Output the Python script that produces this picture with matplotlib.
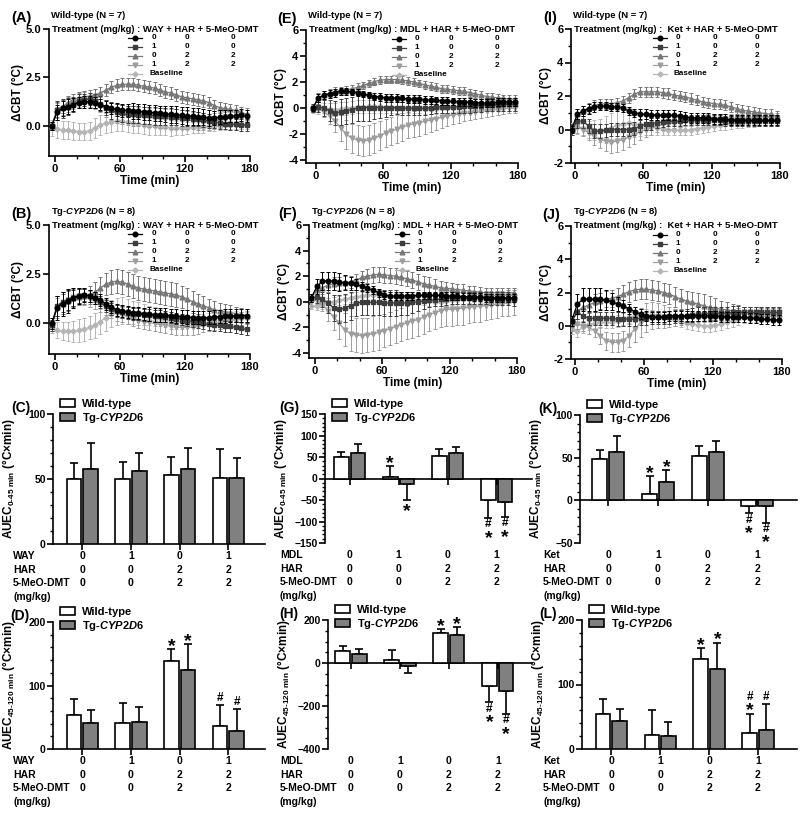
import matplotlib
matplotlib.use('Agg')
import matplotlib.pyplot as plt
from matplotlib.lines import Line2D
from matplotlib.patches import Patch
from matplotlib.ticker import MultipleLocator, FormatStrFormatter
import numpy as np

plt.rcParams['font.family'] = ['Liberation Sans', 'DejaVu Sans']
plt.rcParams['font.weight'] = 'bold'
plt.rcParams['axes.labelweight'] = 'bold'
plt.rcParams['mathtext.fontset'] = 'custom'
plt.rcParams['mathtext.rm'] = 'Liberation Sans'
plt.rcParams['mathtext.it'] = 'Liberation Sans:italic:bold'
plt.rcParams['mathtext.bf'] = 'Liberation Sans:bold'

# ---- time course data (delta CBT, deg C), one point every 5 min ----
t = list(range(-3, 180, 5))

A_veh = [0.0,0.7,0.9,1.0,1.1, 1.2,1.25,1.25,1.2,1.1, 1.0,0.9,0.85,0.8,0.8, 0.78,0.75,0.72,0.7,0.68, 0.65,0.62,0.6,0.58,0.55, 0.52,0.5,0.48,0.45,0.42, 0.42,0.45,0.48,0.5,0.52, 0.55,0.5]
A_way = [0.0,0.8,0.9,1.0,1.1, 1.3,1.35,1.4,1.3,1.15, 0.95,0.8,0.7,0.65,0.6, 0.6,0.58,0.55,0.55,0.52, 0.5,0.5,0.48,0.45,0.42, 0.4,0.38,0.35,0.3,0.25, 0.2,0.15,0.12,0.1,0.08, 0.05,0.05]
A_har = [0.0,0.85,1.0,1.2,1.35, 1.45,1.5,1.55,1.6,1.7, 1.85,2.0,2.1,2.15,2.15, 2.15,2.1,2.05,2.0,1.95, 1.85,1.75,1.7,1.6,1.5, 1.45,1.4,1.35,1.3,1.2, 1.05,0.95,0.9,0.85,0.8, 0.7,0.6]
A_mix = [0.0,0.8,0.95,1.1,1.25, 1.35,1.4,1.35,1.25,1.1, 0.9,0.75,0.65,0.6,0.55, 0.52,0.5,0.48,0.45,0.42, 0.4,0.38,0.36,0.35,0.33, 0.3,0.28,0.25,0.22,0.2, 0.25,0.3,0.35,0.4,0.45, 0.5,0.5]
A_base = [-0.1,-0.15,-0.2,-0.2,-0.25, -0.3,-0.3,-0.25,-0.1,0.05, 0.15,0.2,0.25,0.25,0.2, 0.15,0.1,0.05,0.0,0.0, -0.05,-0.05,-0.1,-0.1,-0.1, -0.1,-0.08,-0.05,-0.05,0.0, 0.0,0.02,0.05,0.05,0.05, 0.05,0.05]
A_veh_e = [0.2,0.4,0.4,0.4,0.35, 0.3,0.3,0.3,0.3,0.3, 0.3,0.3,0.35,0.35,0.35, 0.4,0.4,0.4,0.4,0.4, 0.4,0.4,0.45,0.45,0.45, 0.45,0.45,0.45,0.4,0.4, 0.35,0.35,0.35,0.3,0.3, 0.3,0.3]
A_way_e = [0.2,0.5,0.5,0.45,0.4, 0.35,0.3,0.3,0.35,0.4, 0.4,0.45,0.45,0.45,0.45, 0.45,0.45,0.45,0.45,0.45, 0.45,0.45,0.45,0.4,0.4, 0.4,0.4,0.35,0.35,0.35, 0.3,0.3,0.3,0.3,0.3, 0.3,0.3]
A_har_e = [0.2,0.4,0.35,0.35,0.3, 0.3,0.3,0.3,0.3,0.3, 0.3,0.3,0.3,0.3,0.3, 0.3,0.3,0.3,0.3,0.3, 0.3,0.3,0.3,0.3,0.3, 0.3,0.3,0.3,0.3,0.3, 0.3,0.3,0.3,0.3,0.3, 0.3,0.3]
A_mix_e = [0.2,0.4,0.4,0.4,0.4, 0.35,0.35,0.35,0.4,0.4, 0.45,0.45,0.5,0.5,0.5, 0.5,0.5,0.5,0.5,0.5, 0.5,0.5,0.5,0.5,0.5, 0.45,0.45,0.45,0.45,0.4, 0.4,0.4,0.35,0.35,0.35, 0.3,0.3]
A_base_e = [0.4,0.45,0.45,0.45,0.45, 0.45,0.45,0.45,0.5,0.5, 0.5,0.5,0.5,0.5,0.5, 0.5,0.45,0.45,0.45,0.45, 0.4,0.4,0.4,0.35,0.35, 0.3,0.3,0.3,0.3,0.25, 0.25,0.25,0.25,0.2,0.2, 0.2,0.2]

B_veh = [0.0,0.8,1.0,1.15,1.3, 1.4,1.45,1.4,1.3,1.2, 1.0,0.85,0.7,0.65,0.6, 0.55,0.55,0.5,0.48,0.45, 0.45,0.42,0.4,0.38,0.35, 0.33,0.3,0.3,0.28,0.3, 0.32,0.35,0.38,0.4,0.4, 0.4,0.4]
B_way = [-0.1,0.9,1.1,1.2,1.3, 1.4,1.45,1.4,1.3,1.1, 0.9,0.75,0.65,0.6,0.55, 0.5,0.48,0.45,0.42,0.4, 0.38,0.35,0.3,0.25,0.2, 0.15,0.1,0.05,0.0,-0.05, -0.1,-0.1,-0.15,-0.15,-0.2, -0.25,-0.3]
B_har = [0.0,0.9,1.0,1.15,1.3, 1.35,1.4,1.45,1.6,1.8, 2.0,2.1,2.15,2.1,2.0, 1.9,1.8,1.75,1.7,1.65, 1.6,1.55,1.5,1.45,1.35, 1.25,1.1,1.0,0.9,0.8, 0.7,0.65,0.6,0.55,0.5, 0.45,0.4]
B_mix = [-0.1,0.8,1.0,1.2,1.35, 1.4,1.35,1.25,1.15,1.0, 0.85,0.7,0.55,0.45,0.35, 0.25,0.15,0.1,0.05,0.0, -0.05,-0.1,-0.15,-0.2,-0.2, -0.2,-0.2,-0.15,-0.1,-0.05, 0.0,0.05,0.1,0.15,0.2, 0.25,0.3]
B_base = [-0.2,-0.35,-0.4,-0.4,-0.4, -0.35,-0.3,-0.2,-0.1,0.1, 0.3,0.5,0.6,0.65,0.6, 0.55,0.5,0.45,0.4,0.35, 0.3,0.2,0.1,0.05,0.05, 0.1,0.15,0.2,0.2,0.25, 0.3,0.3,0.3,0.35,0.35, 0.3,0.3]
B_veh_e = [0.3,0.6,0.6,0.6,0.5, 0.4,0.35,0.3,0.3,0.3, 0.3,0.3,0.3,0.3,0.3, 0.3,0.3,0.3,0.35,0.35, 0.35,0.35,0.35,0.35,0.35, 0.35,0.35,0.35,0.35,0.35, 0.35,0.35,0.35,0.35,0.35, 0.35,0.35]
B_way_e = [0.3,0.5,0.5,0.5,0.4, 0.35,0.3,0.3,0.3,0.3, 0.3,0.3,0.3,0.3,0.3, 0.3,0.3,0.3,0.3,0.3, 0.3,0.3,0.3,0.3,0.3, 0.3,0.3,0.3,0.3,0.3, 0.3,0.3,0.3,0.3,0.3, 0.3,0.3]
B_har_e = [0.3,0.5,0.5,0.5,0.45, 0.4,0.4,0.45,0.5,0.55, 0.55,0.6,0.6,0.6,0.6, 0.6,0.6,0.6,0.6,0.6, 0.6,0.6,0.6,0.6,0.55, 0.55,0.55,0.5,0.5,0.45, 0.45,0.4,0.4,0.4,0.35, 0.35,0.35]
B_mix_e = [0.3,0.5,0.5,0.5,0.45, 0.4,0.4,0.4,0.4,0.4, 0.4,0.4,0.4,0.4,0.4, 0.4,0.4,0.4,0.4,0.4, 0.4,0.4,0.4,0.4,0.4, 0.4,0.4,0.4,0.35,0.35, 0.35,0.35,0.35,0.35,0.35, 0.35,0.35]
B_base_e = [0.3,0.4,0.45,0.5,0.55, 0.6,0.6,0.6,0.65,0.65, 0.7,0.7,0.7,0.7,0.65, 0.6,0.6,0.55,0.5,0.5, 0.45,0.4,0.4,0.35,0.35, 0.3,0.3,0.3,0.3,0.3, 0.3,0.3,0.3,0.3,0.3, 0.3,0.3]

E_veh = [0.0,0.8,1.0,1.1,1.2, 1.3,1.3,1.25,1.2,1.1, 1.0,0.9,0.85,0.8,0.8, 0.78,0.75,0.72,0.7,0.68, 0.65,0.62,0.6,0.58,0.55, 0.52,0.5,0.48,0.45,0.42, 0.4,0.4,0.42,0.45,0.48, 0.5,0.5]
E_mdl = [0.0,0.1,0.0,-0.2,-0.35, -0.3,-0.2,-0.1,0.0,0.05, 0.05,0.05,0.05,0.05,0.05, 0.05,0.0,0.0,0.0,0.0, 0.0,0.05,0.1,0.1,0.1, 0.1,0.12,0.15,0.15,0.2, 0.2,0.25,0.25,0.25,0.3, 0.3,0.3]
E_har = [0.0,0.8,1.0,1.15,1.3, 1.35,1.4,1.5,1.6,1.75, 1.9,2.05,2.15,2.2,2.2, 2.2,2.15,2.1,2.0,1.9, 1.8,1.7,1.6,1.5,1.45, 1.4,1.35,1.3,1.2,1.1, 1.0,0.9,0.85,0.8,0.75, 0.7,0.7]
E_mix = [0.0,0.0,-0.3,-0.6,-1.0, -1.5,-2.0,-2.3,-2.45,-2.5, -2.45,-2.3,-2.1,-1.9,-1.75, -1.6,-1.45,-1.3,-1.2,-1.1, -1.0,-0.9,-0.8,-0.7,-0.6, -0.5,-0.45,-0.4,-0.35,-0.3, -0.25,-0.2,-0.15,-0.1,-0.05, 0.0,0.0]
E_base = [-0.1,-0.05,0.0,-0.05,-0.1, -0.05,0.0,0.05,0.1,0.1, 0.15,0.15,0.15,0.1,0.1, 0.05,0.05,0.0,0.0,0.0, -0.05,-0.05,-0.05,0.0,0.0, 0.05,0.1,0.1,0.1,0.15, 0.15,0.2,0.2,0.2,0.2, 0.2,0.2]
E_veh_e = [0.2,0.3,0.3,0.3,0.3, 0.25,0.25,0.25,0.25,0.25, 0.25,0.25,0.3,0.3,0.3, 0.3,0.3,0.3,0.3,0.3, 0.3,0.3,0.3,0.3,0.3, 0.3,0.3,0.3,0.3,0.3, 0.3,0.3,0.3,0.3,0.3, 0.3,0.3]
E_mdl_e = [0.3,0.4,0.6,0.8,0.9, 1.0,1.0,1.0,1.0,1.0, 1.0,0.9,0.8,0.7,0.6, 0.5,0.5,0.5,0.5,0.5, 0.5,0.5,0.5,0.5,0.5, 0.5,0.5,0.5,0.5,0.5, 0.5,0.5,0.5,0.5,0.5, 0.5,0.5]
E_har_e = [0.2,0.35,0.3,0.3,0.3, 0.3,0.3,0.3,0.3,0.3, 0.3,0.3,0.3,0.3,0.3, 0.3,0.3,0.3,0.3,0.3, 0.3,0.3,0.3,0.3,0.3, 0.3,0.3,0.3,0.3,0.3, 0.3,0.3,0.3,0.3,0.3, 0.3,0.3]
E_mix_e = [0.3,0.3,0.4,0.6,0.8, 1.0,1.1,1.1,1.15,1.15, 1.15,1.15,1.1,1.1,1.1, 1.1,1.05,1.0,1.0,1.0, 0.95,0.9,0.85,0.8,0.75, 0.7,0.65,0.6,0.55,0.5, 0.5,0.45,0.45,0.4,0.4, 0.4,0.4]
E_base_e = [0.3,0.4,0.4,0.45,0.5, 0.5,0.5,0.5,0.5,0.5, 0.5,0.5,0.5,0.45,0.45, 0.4,0.4,0.4,0.4,0.4, 0.4,0.4,0.4,0.4,0.4, 0.4,0.4,0.4,0.4,0.4, 0.4,0.4,0.4,0.4,0.4, 0.4,0.4]

F_veh = [0.3,1.2,1.6,1.65,1.6, 1.55,1.5,1.45,1.35,1.2, 1.05,0.9,0.7,0.55,0.45, 0.45,0.45,0.45,0.45,0.5, 0.5,0.5,0.5,0.5,0.45, 0.45,0.42,0.4,0.4,0.35, 0.35,0.3,0.3,0.3,0.3, 0.3,0.3]
F_mdl = [0.3,0.4,0.2,-0.1,-0.5, -0.6,-0.5,-0.3,-0.1,-0.05, -0.05,-0.05,-0.05,-0.1,-0.1, -0.1,-0.1,-0.1,-0.05,0.0, 0.05,0.1,0.15,0.2,0.25, 0.3,0.3,0.3,0.3,0.3, 0.3,0.3,0.25,0.25,0.25, 0.25,0.2]
F_har = [0.3,0.9,1.1,1.3,1.4, 1.45,1.5,1.55,1.7,1.9, 2.0,2.1,2.15,2.1,2.05, 2.0,1.9,1.8,1.7,1.55, 1.4,1.3,1.2,1.1,1.05, 1.0,0.95,0.9,0.85,0.8, 0.75,0.7,0.7,0.7,0.7, 0.7,0.7]
F_mix = [0.0,0.1,-0.2,-0.7,-1.2, -1.7,-2.2,-2.5,-2.6,-2.65, -2.6,-2.5,-2.4,-2.25,-2.1, -1.95,-1.8,-1.65,-1.5,-1.4, -1.2,-1.0,-0.85,-0.7,-0.6, -0.6,-0.55,-0.5,-0.45,-0.4, -0.35,-0.3,-0.25,-0.2,-0.15, -0.1,-0.05]
F_base = [-0.3,-0.35,-0.2,-0.05,0.0, 0.1,0.2,0.3,0.4,0.45, 0.5,0.55,0.5,0.45,0.4, 0.35,0.3,0.25,0.2,0.15, 0.1,0.05,0.0,0.0,0.05, 0.1,0.15,0.2,0.25,0.3, 0.35,0.4,0.45,0.5,0.5, 0.55,0.55]
F_veh_e = [0.3,0.6,0.7,0.7,0.7, 0.7,0.6,0.5,0.4,0.35, 0.3,0.3,0.3,0.3,0.3, 0.3,0.3,0.3,0.3,0.3, 0.3,0.3,0.3,0.3,0.3, 0.3,0.3,0.3,0.3,0.3, 0.3,0.3,0.3,0.3,0.3, 0.3,0.3]
F_mdl_e = [0.3,0.5,0.6,0.8,1.0, 1.1,1.1,1.1,1.0,1.0, 1.0,1.0,1.0,1.0,1.0, 1.0,0.9,0.9,0.8,0.7, 0.6,0.5,0.5,0.5,0.5, 0.5,0.5,0.5,0.5,0.5, 0.5,0.5,0.5,0.5,0.5, 0.5,0.5]
F_har_e = [0.3,0.5,0.5,0.5,0.5, 0.5,0.5,0.5,0.5,0.5, 0.55,0.6,0.6,0.6,0.6, 0.6,0.6,0.6,0.6,0.6, 0.6,0.6,0.55,0.5,0.5, 0.5,0.45,0.45,0.4,0.4, 0.4,0.4,0.35,0.35,0.35, 0.35,0.35]
F_mix_e = [0.3,0.3,0.5,0.8,1.0, 1.2,1.3,1.35,1.35,1.35, 1.35,1.35,1.35,1.3,1.3, 1.3,1.3,1.3,1.3,1.3, 1.3,1.3,1.3,1.3,1.3, 1.3,1.3,1.3,1.25,1.2, 1.2,1.15,1.1,1.05,1.0, 1.0,0.95]
F_base_e = [0.3,0.3,0.35,0.35,0.35, 0.35,0.35,0.35,0.35,0.35, 0.35,0.35,0.35,0.35,0.35, 0.35,0.35,0.35,0.35,0.35, 0.35,0.35,0.35,0.35,0.35, 0.35,0.35,0.35,0.35,0.35, 0.35,0.35,0.35,0.35,0.35, 0.35,0.35]

I_veh = [0.0,0.9,1.1,1.25,1.35, 1.4,1.4,1.35,1.35,1.3, 1.1,1.0,0.95,0.9,0.88, 0.86,0.85,0.85,0.85,0.8, 0.75,0.7,0.7,0.7,0.68, 0.65,0.62,0.6,0.58,0.55, 0.55,0.55,0.55,0.55,0.55, 0.55,0.55]
I_ket = [0.0,0.5,0.5,0.2,-0.1, -0.1,-0.05,0.0,0.0,0.0, 0.0,0.05,0.2,0.3,0.35, 0.4,0.45,0.5,0.5,0.5, 0.55,0.55,0.55,0.55,0.55, 0.55,0.55,0.5,0.5,0.5, 0.5,0.5,0.5,0.5,0.5, 0.5,0.5]
I_har = [0.0,0.9,1.1,1.3,1.45, 1.5,1.55,1.55,1.6,1.7, 1.9,2.1,2.25,2.25,2.25, 2.25,2.2,2.15,2.05,2.0, 1.95,1.85,1.75,1.65,1.6, 1.55,1.5,1.45,1.35,1.25, 1.15,1.1,1.05,1.0,0.95, 0.9,0.8]
I_mix = [0.0,0.2,0.0,-0.2,-0.4, -0.6,-0.7,-0.75,-0.7,-0.6, -0.45,-0.3,-0.15,0.0,0.1, 0.2,0.3,0.35,0.4,0.45, 0.5,0.5,0.55,0.55,0.6, 0.6,0.6,0.6,0.62,0.65, 0.65,0.65,0.68,0.7,0.7, 0.7,0.7]
I_base = [0.1,0.15,0.1,0.0,-0.05, -0.05,0.0,0.1,0.25,0.35, 0.4,0.35,0.3,0.25,0.2, 0.1,0.05,0.0,-0.05,-0.05, -0.05,0.0,0.05,0.1,0.15, 0.2,0.25,0.3,0.35,0.4, 0.4,0.45,0.45,0.5,0.5, 0.5,0.5]
I_veh_e = [0.2,0.3,0.3,0.3,0.3, 0.25,0.25,0.25,0.25,0.25, 0.25,0.25,0.3,0.3,0.3, 0.3,0.3,0.3,0.3,0.3, 0.3,0.3,0.3,0.3,0.3, 0.3,0.3,0.3,0.3,0.3, 0.3,0.3,0.3,0.3,0.3, 0.3,0.3]
I_ket_e = [0.3,0.4,0.4,0.4,0.4, 0.4,0.4,0.4,0.4,0.4, 0.4,0.4,0.35,0.35,0.35, 0.3,0.3,0.3,0.3,0.3, 0.3,0.3,0.3,0.3,0.3, 0.3,0.3,0.3,0.3,0.3, 0.3,0.3,0.3,0.3,0.3, 0.3,0.3]
I_har_e = [0.2,0.35,0.3,0.3,0.3, 0.3,0.3,0.3,0.3,0.3, 0.3,0.3,0.3,0.3,0.3, 0.3,0.3,0.3,0.3,0.3, 0.3,0.3,0.3,0.3,0.3, 0.3,0.3,0.3,0.3,0.3, 0.3,0.3,0.3,0.3,0.3, 0.3,0.3]
I_mix_e = [0.3,0.4,0.4,0.4,0.5, 0.5,0.6,0.65,0.65,0.65, 0.6,0.55,0.5,0.45,0.4, 0.35,0.3,0.3,0.3,0.3, 0.3,0.3,0.3,0.3,0.3, 0.3,0.3,0.3,0.3,0.3, 0.3,0.3,0.3,0.3,0.3, 0.3,0.3]
I_base_e = [0.3,0.4,0.45,0.5,0.6, 0.7,0.8,0.9,0.9,0.9, 0.9,0.8,0.7,0.6,0.5, 0.4,0.35,0.3,0.3,0.3, 0.3,0.3,0.3,0.3,0.3, 0.3,0.3,0.3,0.3,0.3, 0.3,0.3,0.3,0.3,0.3, 0.3,0.3]

J_veh = [0.3,1.3,1.6,1.6,1.6, 1.6,1.55,1.45,1.3,1.2, 1.0,0.85,0.7,0.6,0.55, 0.55,0.55,0.6,0.6,0.6, 0.6,0.6,0.6,0.6,0.6, 0.6,0.55,0.55,0.5,0.5, 0.5,0.45,0.45,0.4,0.4, 0.35,0.35]
J_ket = [0.3,0.8,0.6,0.45,0.45, 0.45,0.45,0.45,0.4,0.4, 0.4,0.4,0.45,0.45,0.5, 0.5,0.5,0.5,0.55,0.55, 0.6,0.65,0.7,0.7,0.75, 0.75,0.75,0.75,0.8,0.8, 0.8,0.8,0.8,0.8,0.8, 0.8,0.8]
J_har = [0.2,0.9,1.1,1.25,1.4, 1.5,1.6,1.65,1.75,1.9, 2.05,2.15,2.2,2.2,2.15, 2.1,2.0,1.9,1.75,1.6, 1.5,1.4,1.3,1.2,1.1, 1.05,1.0,0.95,0.9,0.85, 0.8,0.8,0.75,0.7,0.7, 0.7,0.7]
J_mix = [0.0,0.1,0.0,-0.1,-0.3, -0.6,-0.9,-1.0,-1.0,-0.9, -0.6,-0.2,0.2,0.5,0.6, 0.6,0.55,0.5,0.5,0.5, 0.5,0.5,0.5,0.5,0.55, 0.6,0.6,0.65,0.7,0.75, 0.8,0.8,0.8,0.8,0.8, 0.8,0.8]
J_base = [-0.2,-0.3,-0.1,0.1,0.15, 0.2,0.2,0.2,0.3,0.4, 0.5,0.6,0.65,0.65,0.6, 0.55,0.5,0.45,0.35,0.25, 0.15,0.1,0.05,0.0,0.0, 0.05,0.1,0.2,0.3,0.4, 0.5,0.55,0.6,0.6,0.6, 0.6,0.6]
J_veh_e = [0.3,0.6,0.7,0.7,0.7, 0.65,0.6,0.5,0.4,0.35, 0.3,0.3,0.3,0.3,0.3, 0.3,0.3,0.3,0.3,0.3, 0.3,0.3,0.3,0.3,0.3, 0.3,0.3,0.3,0.3,0.3, 0.3,0.3,0.3,0.3,0.3, 0.3,0.3]
J_ket_e = [0.3,0.4,0.4,0.4,0.4, 0.4,0.4,0.4,0.4,0.4, 0.4,0.4,0.4,0.4,0.4, 0.4,0.4,0.4,0.4,0.4, 0.4,0.4,0.4,0.4,0.4, 0.4,0.4,0.4,0.4,0.4, 0.35,0.35,0.35,0.35,0.35, 0.35,0.35]
J_har_e = [0.3,0.5,0.5,0.5,0.5, 0.5,0.5,0.5,0.55,0.55, 0.6,0.6,0.6,0.6,0.6, 0.6,0.6,0.6,0.6,0.6, 0.6,0.65,0.7,0.7,0.7, 0.6,0.5,0.45,0.4,0.4, 0.35,0.35,0.35,0.35,0.35, 0.35,0.35]
J_mix_e = [0.3,0.3,0.3,0.4,0.4, 0.5,0.55,0.55,0.55,0.6, 0.7,0.8,0.85,0.85,0.8, 0.75,0.7,0.6,0.5,0.45, 0.4,0.35,0.3,0.3,0.3, 0.3,0.3,0.3,0.3,0.3, 0.3,0.3,0.3,0.3,0.3, 0.3,0.3]
J_base_e = [0.3,0.35,0.35,0.35,0.35, 0.35,0.35,0.35,0.35,0.35, 0.35,0.35,0.35,0.35,0.35, 0.35,0.35,0.35,0.35,0.35, 0.35,0.35,0.35,0.35,0.35, 0.35,0.35,0.35,0.35,0.35, 0.35,0.35,0.35,0.35,0.35, 0.35,0.35]

legend_doses = [['0', '0', '0'], ['1', '0', '0'], ['0', '2', '2'], ['1', '2', '2'], ['Baseline']]

# ---- AUEC bar data (mean, SD) ----
C_wt = [50, 50, 53, 51];     C_wt_e = [12, 13, 14, 22]
C_tg = [58, 56, 58, 51];     C_tg_e = [20, 14, 16, 15]
D_wt = [54, 41, 139, 37];    D_wt_e = [24, 31, 18, 33]
D_tg = [41, 42, 124, 29];    D_tg_e = [20, 24, 41, 34]
G_wt = [50, 4, 53, -50];     G_wt_e = [12, 26, 15, 41]
G_tg = [60, -13, 60, -54];   G_tg_e = [20, 37, 14, 35]
H_wt = [56, 12, 141, -109];  H_wt_e = [23, 47, 18, 73]
H_tg = [43, -16, 128, -128]; H_tg_e = [24, 31, 39, 108]
K_wt = [48, 8, 52, -7];      K_wt_e = [11, 21, 12, 8]
K_tg = [57, 21, 57, -7];     K_tg_e = [18, 15, 13, 19]
L_wt = [54, 22, 140, 25];    L_wt_e = [23, 38, 17, 30]
L_tg = [43, 20, 124, 30];    L_tg_e = [19, 22, 41, 40]

D_sig_wt = ['', '', '*', '#'];   D_sig_tg = ['', '', '*', '#']
G_sig_wt = ['', '*', '', '#*'];  G_sig_tg = ['', '*', '', '#*']
H_sig_wt = ['', '', '*', '#*'];  H_sig_tg = ['', '', '*', '#*']
K_sig_wt = ['', '*', '', '#*'];  K_sig_tg = ['', '*', '', '#*']
L_sig_wt = ['', '', '*', '#*'];  L_sig_tg = ['', '', '*', '#']
no_sig = ['', '', '', '']

inhib_dose = ['0', '1', '0', '1']
har_dose = ['0', '0', '2', '2']
dmt_dose = ['0', '0', '2', '2']

W, H = 800, 816
fig = plt.figure(figsize=(8, 8.16), dpi=100)

def fx(x): return x / W
def fy(y): return 1 - y / H

styles = [('#000000', 'o', 3.3), ('#3d3d3d', 's', 3.0), ('#777777', '^', 3.4),
          ('#9d9d9d', 'v', 3.4), ('#b5b5b5', 'D', 2.6)]

def line_panel(l, r, tp, b, xlim, ylim, ystep, yminor, yfmt, data, errs,
               letter, letter_x, title, treat, cols, hx):
    ax = fig.add_axes([fx(l), fy(b), (r - l) / W, (b - tp) / H])
    for i in [4, 3, 2, 1, 0]:
        c, m, ms = styles[i]
        ax.errorbar(t, data[i], yerr=errs[i], color=c, marker=m, ms=ms, mfc=c, mec=c,
                    lw=0.9, elinewidth=0.7, capsize=1.4, capthick=0.7, zorder=3 + (4 - i))
    ax.set_xlim(*xlim); ax.set_ylim(*ylim)
    ax.set_xticks([0, 60, 120, 180])
    ax.xaxis.set_minor_locator(MultipleLocator(20))
    ax.yaxis.set_major_locator(MultipleLocator(ystep))
    if yminor:
        ax.yaxis.set_minor_locator(MultipleLocator(yminor))
    ax.yaxis.set_major_formatter(FormatStrFormatter(yfmt))
    for s in ['top', 'right']:
        ax.spines[s].set_visible(False)
    for s in ['left', 'bottom']:
        ax.spines[s].set_linewidth(1.2)
    ax.tick_params(which='major', length=4, width=1.2, labelsize=8, pad=1.5)
    ax.tick_params(which='minor', length=2, width=1.0)
    ax.set_xlabel('Time (min)', fontsize=8.5, labelpad=1)
    ax.set_ylabel('\u0394CBT (\u00b0C)', fontsize=8.5, labelpad=1)
    fig.text(fx(letter_x), fy(tp - 11), letter, fontsize=10.5, fontweight='bold', va='center', ha='left')
    fig.text(fx(l + 2), fy(tp - 14), title, fontsize=6.8, va='center', ha='left')
    fig.text(fx(l + 3), fy(tp), treat, fontsize=6.8, va='center', ha='left')
    for k, row in enumerate(legend_doses):
        yy = fy(tp + 8.5 + 9 * k)
        c, m, ms = styles[k]
        fig.add_artist(Line2D([fx(l + hx - 7), fx(l + hx), fx(l + hx + 7)], [yy, yy, yy],
                              color=c, lw=0.9, marker=m, ms=ms, markevery=[1]))
        if len(row) == 1:
            fig.text(fx(l + cols[0] - 4), yy, row[0], fontsize=5.9, va='center', ha='left')
        else:
            for cx, v in zip(cols, row):
                fig.text(fx(l + cx), yy, v, fontsize=5.9, va='center', ha='center')
    return ax

def bar_panel(l, r, tp, b, xlim, ylim, ystep, yminor, wt, wte, tg, tge, swt, stg,
              drug, ylab, letter, letter_x, lab_x):
    ax = fig.add_axes([fx(l), fy(b), (r - l) / W, (b - tp) / H])
    x = np.arange(len(wt))
    off, w = 0.17, 0.3
    for xs, vals, errs, fc, sig in [(x - off, wt, wte, 'white', swt), (x + off, tg, tge, '#808080', stg)]:
        ax.bar(xs, vals, w, color=fc, edgecolor='black', linewidth=1.2, zorder=3)
        lo = [e if v < 0 else 0 for v, e in zip(vals, errs)]
        hi = [0 if v < 0 else e for v, e in zip(vals, errs)]
        ax.errorbar(xs, vals, yerr=[lo, hi], fmt='none', ecolor='black', elinewidth=1.2,
                    capsize=3, capthick=1.2, zorder=2)
        for xi, v, e, s in zip(xs, vals, errs, sig):
            if not s:
                continue
            neg = v < 0
            tip = v - e if neg else v + e
            seq = list(s) if neg else list(s)[::-1]
            gap = 2
            for ch in seq:
                hh = 10 if ch == '*' else 9
                fs = 14 if ch == '*' else 8.5
                shift = -4.5 if ch == '*' else 0
                dy = -(gap + hh / 2) if neg else (gap + hh / 2)
                ax.annotate(ch, xy=(xi, tip), xytext=(0, dy + shift), textcoords='offset pixels',
                            ha='center', va='center', fontsize=fs, fontweight='bold')
                gap += hh
    ax.set_xlim(*xlim); ax.set_ylim(*ylim)
    ax.set_xticks(x); ax.set_xticklabels([])
    ax.yaxis.set_major_locator(MultipleLocator(ystep))
    ax.yaxis.set_minor_locator(MultipleLocator(yminor))
    for s in ['top', 'right']:
        ax.spines[s].set_visible(False)
    for s in ['left', 'bottom']:
        ax.spines[s].set_linewidth(1.2)
    ax.spines['bottom'].set_position(('data', 0))
    ax.tick_params(which='major', length=4, width=1.2, labelsize=7.5, pad=1.2)
    ax.tick_params(which='minor', length=2, width=1.0)
    ax.set_ylabel(ylab, fontsize=8.5)
    ax.yaxis.set_label_coords(-36 / (r - l), 0.5)
    rows = [(drug, inhib_dose), ('HAR', har_dose), ('5-MeO-DMT', dmt_dose), ('(mg/kg)', None)]
    for k, (name, vals) in enumerate(rows):
        dy = -(12 + 13.7 * k)
        ax.annotate(name, xy=(fx(lab_x), 0), xycoords=('figure fraction', 'axes fraction'),
                    xytext=(0, dy), textcoords='offset pixels', ha='left', va='center', fontsize=7.5)
        if vals:
            for xi, v in zip(x, vals):
                ax.annotate(v, xy=(xi, 0), xycoords=('data', 'axes fraction'), xytext=(0, dy),
                            textcoords='offset pixels', ha='center', va='center', fontsize=7.5)
    ax.legend(handles=[Patch(facecolor='white', edgecolor='black', lw=1.2),
                       Patch(facecolor='#808080', edgecolor='black', lw=1.2)],
              labels=['Wild-type', 'Tg-$\\mathit{CYP2D6}$'], loc='upper left',
              bbox_to_anchor=(fx(l + 7), fy(tp - 15)), bbox_transform=fig.transFigure,
              frameon=False, fontsize=8, handlelength=1.35, handleheight=0.75,
              handletextpad=0.6, labelspacing=0.2, borderpad=0, borderaxespad=0)
    fig.text(fx(letter_x), fy(tp - 6), letter, fontsize=10, fontweight='bold', va='center', ha='left')
    return ax

auec0 = 'AUEC$_{\\mathrm{0\u201045\\ min}}$ ($\\mathrm{\u00b0C{\\times}min}$)'
auec45 = 'AUEC$_{\\mathrm{45\u2010120\\ min}}$ ($\\mathrm{\u00b0C{\\times}min}$)'
wt_title = 'Wild-type (N = 7)'
tg_title = 'Tg-$\\mathit{CYP2D6}$ (N = 8)'

line_panel(49, 250, 29, 156, (-5.5, 180), (-1.55, 5.0), 2.5, None, '%.1f',
           [A_veh, A_way, A_har, A_mix, A_base], [A_veh_e, A_way_e, A_har_e, A_mix_e, A_base_e],
           '(A)', 11, wt_title, 'Treatment (mg/kg) : WAY + HAR + 5-MeO-DMT', (105, 138, 184), 86)
line_panel(49, 250, 225, 354, (-5.5, 180), (-1.55, 5.0), 2.5, None, '%.1f',
           [B_veh, B_way, B_har, B_mix, B_base], [B_veh_e, B_way_e, B_har_e, B_mix_e, B_base_e],
           '(B)', 11, tg_title, 'Treatment (mg/kg) : WAY + HAR + 5-MeO-DMT', (105, 138, 184), 86)
line_panel(306, 518, 30, 163, (-9, 180), (-4.2, 6), 2, 1, '%d',
           [E_veh, E_mdl, E_har, E_mix, E_base], [E_veh_e, E_mdl_e, E_har_e, E_mix_e, E_base_e],
           '(E)', 277, wt_title, 'Treatment (mg/kg) : MDL + HAR + 5-MeO-DMT', (111, 145, 191), 93)
line_panel(309, 517, 225, 358, (-5, 180), (-4.4, 6), 2, 1, '%d',
           [F_veh, F_mdl, F_har, F_mix, F_base], [F_veh_e, F_mdl_e, F_har_e, F_mix_e, F_base_e],
           '(F)', 278, tg_title, 'Treatment (mg/kg) : MDL + HAR + 5-MeO-DMT', (111, 145, 191), 93)
line_panel(571, 780, 29, 163, (-3.5, 180), (-2, 6), 2, 1, '%d',
           [I_veh, I_ket, I_har, I_mix, I_base], [I_veh_e, I_ket_e, I_har_e, I_mix_e, I_base_e],
           '(I)', 543, wt_title, 'Treatment (mg/kg) :  Ket + HAR + 5-MeO-DMT', (107, 144, 186), 89)
line_panel(571, 782, 226, 359, (-3.5, 180), (-2, 6), 2, 1, '%d',
           [J_veh, J_ket, J_har, J_mix, J_base], [J_veh_e, J_ket_e, J_har_e, J_mix_e, J_base_e],
           '(J)', 542, tg_title, 'Treatment (mg/kg) :  Ket + HAR + 5-MeO-DMT', (107, 144, 186), 89)

bar_panel(53, 265, 414, 544, (-0.6, 3.75), (0, 100), 50, 10, C_wt, C_wt_e, C_tg, C_tg_e,
          no_sig, no_sig, 'WAY', auec0, '(C)', 11, 13)
bar_panel(53, 265, 622, 749, (-0.6, 3.75), (0, 200), 100, 20, D_wt, D_wt_e, D_tg, D_tg_e,
          D_sig_wt, D_sig_tg, 'WAY', auec45, '(D)', 10, 13)
bar_panel(325, 532, 414, 543, (-0.5, 3.72), (-150, 150), 50, 10, G_wt, G_wt_e, G_tg, G_tg_e,
          G_sig_wt, G_sig_tg, 'MDL', auec0, '(G)', 279, 280)
bar_panel(328, 532, 620, 749, (-0.47, 3.7), (-400, 200), 200, 50, H_wt, H_wt_e, H_tg, H_tg_e,
          H_sig_wt, H_sig_tg, 'MDL', auec45, '(H)', 279, 280)
bar_panel(580, 797, 415, 543, (-0.57, 3.8), (-50, 100), 50, 10, K_wt, K_wt_e, K_tg, K_tg_e,
          K_sig_wt, K_sig_tg, 'Ket', auec0, '(K)', 538, 543)
bar_panel(582, 797, 620, 749, (-0.6, 3.8), (0, 200), 100, 20, L_wt, L_wt_e, L_tg, L_tg_e,
          L_sig_wt, L_sig_tg, 'Ket', auec45, '(L)', 539, 543)

fig.savefig('out.png', dpi=100)
